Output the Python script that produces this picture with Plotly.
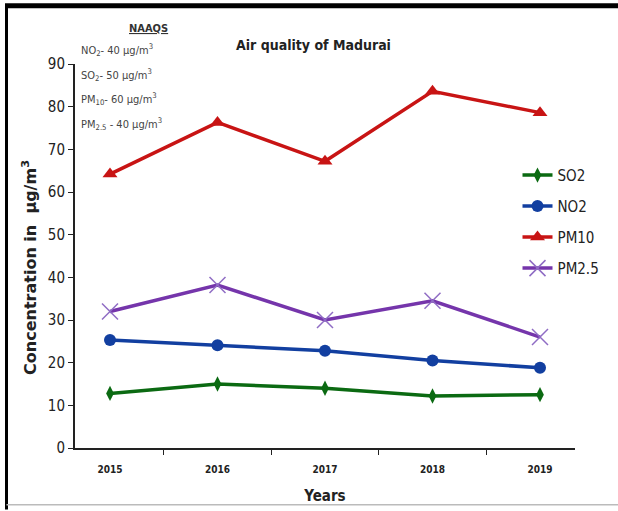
import plotly.graph_objects as go

NARROW = "Liberation Sans Narrow, DejaVu Sans Condensed, Arial Narrow, sans-serif"

years = ["2015", "2016", "2017", "2018", "2019"]
so2 = [12.8, 15.0, 14.0, 12.2, 12.5]
no2 = [25.3, 24.1, 22.8, 20.5, 18.8]
pm10 = [64.2, 76.3, 67.2, 83.6, 78.6]
pm25 = [32.0, 38.2, 30.0, 34.5, 26.0]

seriesNames = ["SO2", "NO2", "PM10", "PM2.5"]
seriesValues = [so2, no2, pm10, pm25]
colorValues = ["#0b6a12", "#123fa0", "#c81414", "#7535ab"]
symbolValues = ["diamond-tall", "circle", "triangle-up", "x-thin"]
sizeValues = [11, 12, 13, 16]

naaqsLines = [
    "NO<sub>2</sub>- 40 µg/m<sup>3</sup>",
    "SO<sub>2</sub>- 50 µg/m<sup>3</sup>",
    "PM<sub>10</sub>- 60 µg/m<sup>3</sup>",
    "PM<sub>2.5</sub> - 40 µg/m<sup>3</sup>",
]

fig = go.Figure()
for i in range(len(seriesNames)):
    if symbolValues[i] == "x-thin":
        mk = dict(symbol="x-thin", size=sizeValues[i], color=colorValues[i],
                  line=dict(width=1.5, color="#8f6cc4"))
    else:
        mk = dict(symbol=symbolValues[i], size=sizeValues[i], color=colorValues[i])
    fig.add_trace(go.Scatter(name=seriesNames[i], x=years, y=seriesValues[i], mode="lines+markers",
                             line=dict(width=3.5, color=colorValues[i]), marker=mk,
                             legendgroup=seriesNames[i]))

# NAAQS box, top left
fig.add_annotation(text="<b><u>NAAQS</u></b>", xref="paper", yref="paper", x=0.104, y=1.092,
                   yanchor="middle", showarrow=False, font=dict(family=NARROW, size=11, color="#333"))
for i in range(len(naaqsLines)):
    fig.add_annotation(text=naaqsLines[i], xref="paper", yref="paper", x=0.008, y=1.036 - i * 0.064,
                       xanchor="left", yanchor="middle", showarrow=False,
                       font=dict(family=NARROW, size=11, color="#444"))

fig.add_annotation(text="<b>Air quality of Madurai</b>", xref="paper", yref="paper", x=0.476, y=1.049,
                   yanchor="middle", showarrow=False, font=dict(family=NARROW, size=14, color="#222"))

# y axis title, placed by hand like the original
fig.add_annotation(text="<b>Concentration in  µg/m<sup>3</sup></b>", xref="paper", yref="paper",
                   x=-0.09, y=0.469, textangle=-90, xanchor="center", yanchor="middle", showarrow=False,
                   font=dict(family="DejaVu Sans, sans-serif", size=16, color="#222"))

# frame lines
fig.add_shape(type="line", xref="paper", yref="paper", x0=-0.14, x1=1.1, y0=1.152, y1=1.152,
              line=dict(color="black", width=5))
fig.add_shape(type="line", xref="paper", yref="paper", x0=-0.137, x1=-0.137, y0=-0.16, y1=1.152,
              line=dict(color="black", width=3))
fig.add_shape(type="line", xref="paper", yref="paper", x0=-0.137, x1=1.1, y0=-0.148, y1=-0.148,
              line=dict(color="#bbbbbb", width=1.5))

fig.update_layout(
    width=618, height=511,
    margin=dict(l=75, r=43, t=64, b=63),
    paper_bgcolor="white", plot_bgcolor="white",
    font=dict(family=NARROW, color="#222"),
    showlegend=True,
    legend=dict(x=0.885, y=0.753, xanchor="left", yanchor="top", font=dict(family=NARROW, size=15, color="#222"),
                tracegroupgap=8.5, itemwidth=30, bgcolor="rgba(0,0,0,0)"),
)
fig.update_xaxes(type="category", showline=True, linecolor="#222", linewidth=2, ticks="outside",
                 tickson="boundaries", ticklen=5, tickcolor="#222", showgrid=False,
                 ticklabelstandoff=11, automargin=False,
                 tickfont=dict(family=NARROW, size=10, color="#222", weight="bold"),
                 title=dict(text="<b>Years</b>", font=dict(family=NARROW, size=15, color="#222"), standoff=16))
fig.update_yaxes(range=[0, 90], dtick=10, showline=True, linecolor="#222", linewidth=2, ticks="outside",
                 ticklen=5, tickcolor="#222", showgrid=False, zeroline=False, automargin=False,
                 tickfont=dict(family=NARROW, size=15, color="#222"))

fig.write_html("out.html", config={"displayModeBar": False},
               post_script="document.body.style.margin='0';")
